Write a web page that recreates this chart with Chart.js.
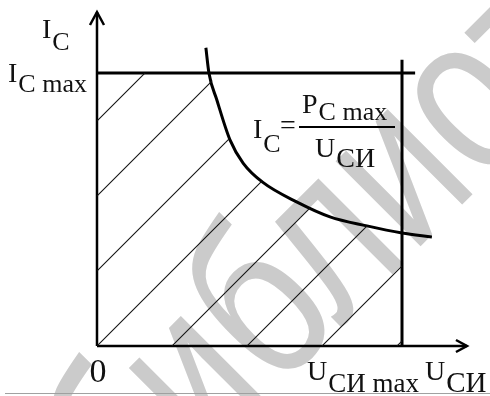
<!DOCTYPE html>
<html>
<head>
<meta charset="utf-8">
<script src="https://cdn.jsdelivr.net/npm/chart.js@4"></script>
<style>
html, body { margin: 0; padding: 0; background: #fff; }
</style>
</head>
<body>
<canvas id="myChart" width="490" height="396"></canvas>
<script>
// U_СИ max = 10, I_C max = 10 (relative units)
var uMax = 10;
var icMax = 10;
// hyperbola I_C = P_C max / U_СИ
var curveU = [3.57, 3.67, 3.93, 4.36, 4.79, 5.44, 6.56, 7.64, 8.85, 10.0, 10.98];
var curveI = [10.92, 10.0, 9.01, 7.55, 6.70, 5.99, 5.27, 4.73, 4.40, 4.14, 3.99];
// axis ranges and the lengths of the drawn lines
var xLimits = [-3.18, 12.885];
var yLimits = [-1.83, 12.67];
var axisEnd = { u: 12.13, i: 12.23 };
var limitOver = { u: 10.43, i: 10.48 };
// texts
var watermark = 'библиотека';
var watermarkAt = { x: 5.67, y: 1.32 };   // centre of the second "б"

var serif = '"Liberation Serif", "Times New Roman", serif';

// hatch pattern: thin 45 degree lines, 75px apart
function hatch() {
    var tile = document.createElement('canvas');
    tile.width = 75;
    tile.height = 75;
    var c = tile.getContext('2d');
    c.strokeStyle = '#111';
    c.lineWidth = 1.1;
    [-7, 68, 143].forEach(function (k) {
        c.beginPath();
        c.moveTo(k + 10, -10);
        c.lineTo(-10, k + 10);
        c.stroke();
    });
    return c.createPattern(tile, 'repeat');
}

var curve = curveU.map(function (u, i) { return { x: u, y: curveI[i] }; });
var area = [{ x: 0, y: icMax }].concat(curve.filter(function (p) {
    return p.y <= icMax && p.x <= uMax;
}));

function seg(a, b) { return [a, b]; }

function sub(ctx, x, y, main, s, dy, size, subSize) {
    ctx.font = size + 'px ' + serif;
    ctx.fillText(main, x, y);
    var w = ctx.measureText(main).width;
    ctx.font = subSize + 'px ' + serif;
    ctx.fillText(s, x + w + 1, y + dy);
}

var drawing = {
    id: 'drawing',
    beforeDatasetsDraw: function (chart) {
        var ctx = chart.ctx;
        var xs = chart.scales.x, ys = chart.scales.y;
        // watermark, lying along the diagonal
        var size = 175, stretch = 1.3, ang = -45 * Math.PI / 180;
        ctx.save();
        ctx.font = size + 'px "Liberation Sans", sans-serif';
        var lx = ctx.measureText(watermark.slice(0, 2)).width + ctx.measureText('б').width * 0.55;
        var ly = -0.27 * size * stretch;
        var tx = xs.getPixelForValue(watermarkAt.x), ty = ys.getPixelForValue(watermarkAt.y);
        var px = tx - (lx * Math.cos(ang) - ly * Math.sin(ang));
        var py = ty - (lx * Math.sin(ang) + ly * Math.cos(ang));
        ctx.translate(px, py);
        ctx.rotate(ang);
        ctx.scale(1, stretch);
        ctx.fillStyle = '#cbcbcb';
        ctx.textBaseline = 'alphabetic';
        ctx.fillText(watermark, 0, 0);
        ctx.restore();
    },
    afterDatasetsDraw: function (chart) {
        var ctx = chart.ctx;
        var xs = chart.scales.x, ys = chart.scales.y;
        var ox = xs.getPixelForValue(0), oy = ys.getPixelForValue(0);
        var ux = xs.getPixelForValue(uMax), iy = ys.getPixelForValue(icMax);
        var ax = xs.getPixelForValue(axisEnd.u), ay = ys.getPixelForValue(axisEnd.i);
        ctx.save();
        // arrows
        ctx.strokeStyle = '#000';
        ctx.lineWidth = 2.5;
        ctx.beginPath();
        ctx.moveTo(ox - 7, ay + 13);
        ctx.lineTo(ox, ay);
        ctx.lineTo(ox + 7, ay + 13);
        ctx.moveTo(ax - 11, oy - 6);
        ctx.lineTo(ax, oy);
        ctx.lineTo(ax - 11, oy + 6);
        ctx.stroke();

        // labels
        ctx.fillStyle = '#111';
        ctx.textBaseline = 'alphabetic';
        ctx.textAlign = 'left';
        sub(ctx, ox - 55, ay + 26, 'I', 'C', 12, 28, 26);
        sub(ctx, ox - 89, iy + 9, 'I', 'C max', 10, 28, 26);

        var fx = ux - 149, fy = iy + 65;
        sub(ctx, fx, fy, 'I', 'C', 14, 28, 26);
        ctx.font = '28px ' + serif;
        ctx.fillText('=', fx + 27, fy - 4);
        sub(ctx, fx + 49, fy - 25, 'P', 'C max', 7, 28, 26);
        sub(ctx, fx + 62, fy + 19, 'U', 'СИ', 10, 28, 28);
        ctx.lineWidth = 2;
        ctx.beginPath();
        ctx.moveTo(fx + 46, fy - 11);
        ctx.lineTo(fx + 142, fy - 11);
        ctx.stroke();

        ctx.font = '34px ' + serif;
        ctx.textAlign = 'center';
        ctx.fillText('0', ox + 1, oy + 36);
        ctx.textAlign = 'left';
        sub(ctx, ux - 95, oy + 34, 'U', 'СИ max', 12, 28, 27);
        sub(ctx, ax - 42, oy + 34, 'U', 'СИ', 12, 28, 29);

        // thin grey rule at the bottom
        ctx.strokeStyle = '#a0a0a0';
        ctx.lineWidth = 1;
        ctx.beginPath();
        ctx.moveTo(5, oy + 47.5);
        ctx.lineTo(chart.width, oy + 47.5);
        ctx.stroke();
        ctx.restore();
    }
};

function line(data, width) {
    return {
        data: data,
        borderColor: '#000',
        borderWidth: width,
        pointRadius: 0,
        fill: false
    };
}

var ctx = document.getElementById('myChart').getContext('2d');

var chart = new Chart(ctx, {
    type: 'line',
    data: {
        datasets: [
            {
                data: area,
                borderWidth: 0,
                borderColor: 'rgba(0,0,0,0)',
                backgroundColor: hatch(),
                fill: 'origin',
                pointRadius: 0,
                cubicInterpolationMode: 'monotone'
            },
            Object.assign(line(curve, 3), { cubicInterpolationMode: 'monotone' }),
            line(seg({ x: 0, y: icMax }, { x: limitOver.u, y: icMax }), 3),
            line(seg({ x: uMax, y: 0 }, { x: uMax, y: limitOver.i }), 3),
            line(seg({ x: 0, y: 0 }, { x: 0, y: axisEnd.i }), 2.5),
            line(seg({ x: 0, y: 0 }, { x: axisEnd.u, y: 0 }), 2.5)
        ]
    },
    options: {
        responsive: false,
        animation: false,
        layout: { padding: 0 },
        plugins: { legend: { display: false }, tooltip: { enabled: false } },
        scales: {
            x: { type: 'linear', min: xLimits[0], max: xLimits[1], display: false },
            y: { type: 'linear', min: yLimits[0], max: yLimits[1], display: false }
        }
    },
    plugins: [drawing]
});
</script>
</body>
</html>
